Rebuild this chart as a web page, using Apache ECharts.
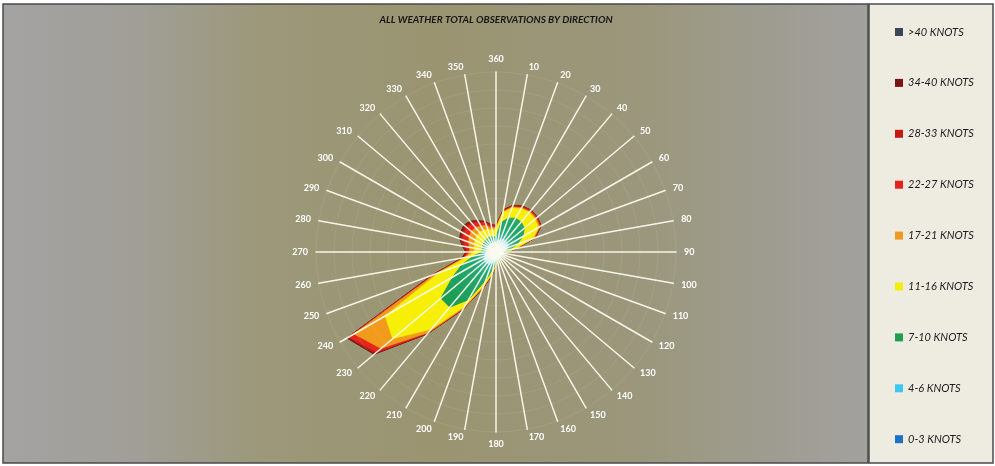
<!DOCTYPE html>
<html>
<head>
<meta charset="utf-8">
<script src="https://cdn.jsdelivr.net/npm/echarts@6/dist/echarts.min.js"></script>
<style>
  html, body { margin: 0; padding: 0; background: #ffffff; }
  #chart { width: 995px; height: 466px; }
</style>
</head>
<body>
<div id="chart"></div>
<script>
// Wind directions (degrees), clockwise from north
const directions = [10, 20, 30, 40, 50, 60, 70, 80, 90, 100, 110, 120, 130, 140, 150, 160, 170, 180,
                    190, 200, 210, 220, 230, 240, 250, 260, 270, 280, 290, 300, 310, 320, 330, 340, 350, 360];

// Observations per speed band, one value per direction (same order as directions)
const obs0to3   = [56, 67, 67, 67, 67, 67, 56, 56, 44, 44, 44, 44, 44, 44, 44, 44, 44, 44,
                   56, 56, 67, 67, 67, 67, 56, 56, 56, 56, 56, 56, 56, 56, 56, 56, 56, 56];
const obs4to6   = [78, 89, 100, 100, 100, 89, 78, 56, 44, 44, 44, 33, 33, 33, 44, 44, 44, 56,
                   56, 78, 89, 100, 100, 89, 78, 67, 56, 56, 56, 56, 56, 56, 56, 56, 56, 56];
const obs7to10  = [200, 244, 267, 267, 244, 189, 111, 44, 22, 11, 11, 11, 11, 11, 11, 11, 22, 22,
                   78, 200, 456, 633, 633, 400, 267, 122, 44, 44, 44, 56, 56, 67, 67, 67, 56, 56];
const obs11to16 = [111, 122, 122, 144, 156, 200, 189, 67, 22, 11, 11, 11, 11, 11, 11, 11, 11, 22,
                   56, 67, 89, 322, 700, 867, 278, 89, 89, 89, 100, 100, 111, 111, 100, 89, 78, 100];
const obs17to21 = [11, 11, 11, 11, 17, 17, 17, 11, 6, 0, 0, 0, 0, 0, 0, 0, 0, 0,
                   11, 17, 22, 44, 167, 400, 44, 22, 44, 56, 67, 78, 78, 67, 56, 44, 22, 11];
const obs22to27 = [11, 11, 11, 11, 11, 11, 6, 6, 0, 0, 0, 0, 0, 0, 0, 0, 0, 0,
                   11, 11, 11, 11, 67, 67, 22, 11, 22, 44, 67, 67, 67, 56, 44, 33, 22, 11];
const obs28to33 = [6, 5, 6, 6, 6, 6, 6, 0, 0, 0, 0, 0, 0, 0, 0, 0, 0, 0,
                   0, 0, 6, 11, 22, 11, 11, 11, 17, 22, 22, 22, 22, 22, 17, 11, 11, 6];
const obs34to40 = [5, 0, 5, 0, 0, 0, 0, 0, 0, 0, 0, 0, 0, 0, 0, 0, 0, 0,
                   0, 0, 0, 0, 11, 11, 6, 6, 6, 11, 17, 17, 17, 11, 6, 6, 6, 0];
const obsOver40 = [0, 0, 0, 0, 0, 0, 0, 0, 0, 0, 0, 0, 0, 0, 0, 0, 0, 0,
                   0, 0, 0, 0, 0, 0, 0, 0, 0, 0, 0, 0, 0, 0, 0, 0, 0, 0];

const bandNames  = ['0-3 KNOTS', '4-6 KNOTS', '7-10 KNOTS', '11-16 KNOTS', '17-21 KNOTS',
                    '22-27 KNOTS', '28-33 KNOTS', '34-40 KNOTS', '>40 KNOTS'];
const bandValues = [obs0to3, obs4to6, obs7to10, obs11to16, obs17to21,
                    obs22to27, obs28to33, obs34to40, obsOver40];

const title = 'ALL WEATHER TOTAL OBSERVATIONS BY DIRECTION';
const radialMax = 2000;

// ---- styling ----
const CX = 496, CY = 252, R = 180;
const G = echarts.graphic;
const bandFills = [
  new G.RadialGradient(CX, CY, 14, [{offset: 0, color: '#ffffff'}, {offset: 1, color: '#d8f6ff'}], true),
  new G.RadialGradient(CX, CY, 22, [{offset: 0, color: '#f4fcff'}, {offset: 0.5, color: '#a8e8fa'}, {offset: 1, color: '#45c6ec'}], true),
  new G.RadialGradient(CX, CY, 75, [{offset: 0, color: '#35c0c0'}, {offset: 0.35, color: '#20a870'}, {offset: 1, color: '#1b9a4c'}], true),
  '#f7ef06', '#f19a1c', '#e6261c', '#c21915', '#7e2210', '#3b4656'
];
const bandEdges = ['#bfefff', '#45c6ec', '#17904a', '#e8d800', '#d8801a', '#c8201a', '#a51510', '#6a1a0c', '#2c3440'];
const legendIcons = ['#1f6fc8', '#3cc8f0', '#1f9e52', '#f4ee10', '#ee9a22', '#e3241e', '#c41a16', '#7a1512', '#3b4656'];

// cumulative totals so each band is drawn as a filled ring out to its running total
const cumulative = [];
bandValues.forEach((vals, k) => {
  cumulative.push(vals.map((v, d) => v + (k > 0 ? cumulative[k - 1][d] : 0)));
});

// radar indicators run counter-clockwise, so list directions from 360 downwards
const order = directions.map((_, i) => directions.length - 1 - i);

const series = [];
for (let k = bandNames.length - 1; k >= 0; k--) {
  series.push({
    type: 'radar',
    name: bandNames[k],
    symbol: 'none',
    silent: true,
    z: 2,
    itemStyle: { color: legendIcons[k] },
    lineStyle: { color: bandEdges[k], width: 0.8 },
    areaStyle: { color: bandFills[k], opacity: 1 },
    data: [{ name: bandNames[k], value: order.map(d => cumulative[k][d]) }]
  });
}

const legendData = [];
for (let k = bandNames.length - 1; k >= 0; k--) {
  legendData.push({ name: bandNames[k], icon: 'rect', itemStyle: { color: legendIcons[k] } });
}

const chart = echarts.init(document.getElementById('chart'), null, { renderer: 'canvas' });
chart.setOption({
  animation: false,
  graphic: [
    {
      type: 'rect', z: -10, silent: true,
      shape: { x: 3, y: 4, width: 865, height: 459 },
      style: {
        fill: new G.LinearGradient(0, 0, 1, 0, [
          { offset: 0, color: '#a4a3a3' },
          { offset: 0.16, color: '#a09e96' },
          { offset: 0.3, color: '#9c9879' },
          { offset: 0.5, color: '#9a9471' },
          { offset: 0.74, color: '#9b977c' },
          { offset: 0.88, color: '#9e9c90' },
          { offset: 1, color: '#a2a19e' }
        ]),
        stroke: '#4a4a4a', lineWidth: 1.5
      }
    },
    {
      type: 'rect', z: -10, silent: true,
      shape: { x: 869, y: 4, width: 124, height: 459 },
      style: { fill: '#eeece1', stroke: '#4a4a4a', lineWidth: 1.5 }
    },
    {
      type: 'text', z: 20, silent: true,
      x: 496, y: 20,
      style: {
        text: title, align: 'center', verticalAlign: 'middle',
        font: 'italic bold 10px Lato', fill: '#161616'
      }
    }
  ],
  legend: {
    orient: 'vertical',
    left: 890, top: 21,
    itemWidth: 8, itemHeight: 8,
    itemGap: 38.9,
    itemTextGap: 4,
    selectedMode: false,
    data: legendData,
    textStyle: { fontFamily: 'Lato', fontStyle: 'italic', fontSize: 11, color: '#1c1c1c', lineHeight: 12 }
  },
  radar: {
    center: [CX, CY],
    radius: R,
    startAngle: 90,
    shape: 'circle',
    splitNumber: 10,
    z: 5,
    nameGap: 8,
    indicator: order.map(d => ({ name: String(directions[d]), min: 0, max: radialMax })),
    axisName: { color: '#ffffff', fontFamily: 'Lato', fontWeight: 'bold', fontSize: 9 },
    axisLine: { lineStyle: { color: 'rgba(252,250,238,0.95)', width: 1.5 } },
    splitLine: { lineStyle: { color: 'rgba(255,255,255,0.08)', width: 1 } },
    splitArea: { show: false },
    axisTick: { show: false },
    axisLabel: { show: false }
  },
  series: series
});
</script>
</body>
</html>
